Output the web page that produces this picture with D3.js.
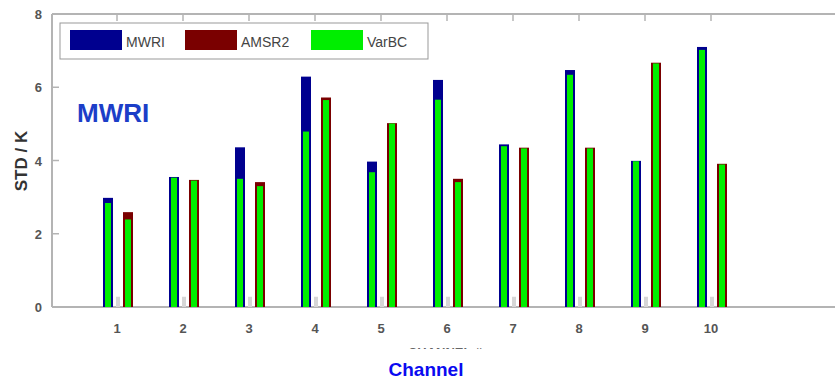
<!DOCTYPE html>
<html>
<head>
<meta charset="utf-8">
<script src="https://cdn.jsdelivr.net/npm/d3@7"></script>
<style>
  body { margin: 0; background: #fff; }
  svg { display: block; font-family: "Liberation Sans", Arial, sans-serif; }
</style>
</head>
<body>
<svg id="chart" width="835" height="379"></svg>
<script>
// channel numbers
const channels = [1, 2, 3, 4, 5, 6, 7, 8, 9, 10];
// STD values (K)
const mwri = [2.98, 3.55, 4.36, 6.29, 3.97, 6.20, 4.44, 6.47, 3.99, 7.10];
const mwriVarBC = [2.84, 3.53, 3.50, 4.79, 3.68, 5.66, 4.39, 6.34, 3.98, 7.02];
const amsr2 = [2.59, 3.47, 3.41, 5.72, 5.02, 3.50, 4.35, 4.35, 6.67, 3.91];
const amsr2VarBC = [2.39, 3.45, 3.30, 5.65, 5.01, 3.41, 4.33, 4.33, 6.65, 3.89];
// tiny grey placeholder bar between each pair
const blank = [0.28, 0.28, 0.28, 0.28, 0.28, 0.28, 0.28, 0.28, 0.28, 0.28];
const yTicks = [0, 2, 4, 6, 8];

const colors = { MWRI: '#00008f', AMSR2: '#7a0000', VarBC: '#00ee00', blank: '#d6d6d6' };

const svg = d3.select('#chart');

const x = d3.scaleLinear().domain([0, 12]).range([51, 843]);
const y = d3.scaleLinear().domain([0, 8]).range([307, 14]);
// position of each series inside a channel group (pixels around the channel)
const inner = d3.scaleBand().domain(['MWRI', 'blank', 'AMSR2']).range([-14, 16]);
const bw = inner.bandwidth();

// axes frame (grey, matlab-like inward ticks)
const axisColor = '#b4b4b4';
svg.append('line').attr('x1', 52).attr('x2', 835).attr('y1', y(0)).attr('y2', y(0))
    .attr('stroke', axisColor).attr('stroke-width', 2);
svg.append('line').attr('x1', 52).attr('x2', 835).attr('y1', y(8)).attr('y2', y(8))
    .attr('stroke', axisColor).attr('stroke-width', 2);
svg.append('line').attr('x1', 52).attr('x2', 52).attr('y1', y(0)).attr('y2', y(8))
    .attr('stroke', axisColor).attr('stroke-width', 2);

// y ticks + labels
yTicks.forEach(t => {
    if (t > 0 && t < 8) {
        svg.append('line').attr('x1', 52).attr('x2', 59).attr('y1', y(t)).attr('y2', y(t))
            .attr('stroke', axisColor).attr('stroke-width', 1.5);
    }
    svg.append('text').attr('x', 42).attr('y', y(t) + 5)
        .attr('text-anchor', 'end').attr('font-size', 13).attr('font-weight', 'bold')
        .attr('fill', '#555').text(t);
});

// x ticks on top + labels below
channels.forEach(c => {
    svg.append('line').attr('x1', x(c)).attr('x2', x(c)).attr('y1', y(8)).attr('y2', y(8) + 7)
        .attr('stroke', axisColor).attr('stroke-width', 1.5);
    svg.append('text').attr('x', x(c)).attr('y', 333)
        .attr('text-anchor', 'middle').attr('font-size', 13).attr('font-weight', 'bold')
        .attr('fill', '#555').text(c);
});

// bars
const g = svg.append('g');
function drawBars(values, key, fill, inset) {
    g.selectAll(null).data(channels).enter().append('rect')
        .attr('x', (d, i) => x(d) + inner(key) + inset)
        .attr('width', bw - 2 * inset)
        .attr('y', (d, i) => y(values[i]))
        .attr('height', (d, i) => y(0) - y(values[i]))
        .attr('fill', fill);
}
drawBars(mwri, 'MWRI', colors.MWRI, 0);
drawBars(mwriVarBC, 'MWRI', colors.VarBC, 2);
drawBars(amsr2, 'AMSR2', colors.AMSR2, 0);
drawBars(amsr2VarBC, 'AMSR2', colors.VarBC, 2);
drawBars(blank, 'blank', colors.blank, 3);

// legend
const legend = svg.append('g');
legend.append('rect').attr('x', 60).attr('y', 23).attr('width', 368).attr('height', 36)
    .attr('fill', '#fff').attr('stroke', '#999').attr('stroke-width', 1);
const legendItems = [
    { name: 'MWRI', color: colors.MWRI, x: 70 },
    { name: 'AMSR2', color: colors.AMSR2, x: 185 },
    { name: 'VarBC', color: colors.VarBC, x: 311 }
];
legendItems.forEach(it => {
    legend.append('rect').attr('x', it.x).attr('y', 30).attr('width', 52).attr('height', 20)
        .attr('fill', it.color);
    legend.append('text').attr('x', it.x + 56).attr('y', 47)
        .attr('font-size', 14).attr('fill', '#444').text(it.name);
});

// axis titles
svg.append('text').attr('transform', 'translate(27,161) rotate(-90)')
    .attr('text-anchor', 'middle').attr('font-size', 17).attr('font-weight', 'bold')
    .attr('fill', '#333').text('STD / K');

// partially hidden original x label
svg.append('text').attr('x', 445).attr('y', 357)
    .attr('text-anchor', 'middle').attr('font-size', 13).attr('font-weight', 'bold')
    .attr('fill', '#666').text('CHANNEL #');
svg.append('rect').attr('x', 380).attr('y', 349).attr('width', 130).attr('height', 30).attr('fill', '#fff');

svg.append('text').attr('x', 426).attr('y', 376)
    .attr('text-anchor', 'middle').attr('font-size', 19).attr('font-weight', 'bold')
    .attr('fill', '#0a0af0').text('Channel');

svg.append('text').attr('x', 77).attr('y', 122)
    .attr('font-size', 26).attr('font-weight', 'bold')
    .attr('fill', '#1c3ec8').text('MWRI');
</script>
</body>
</html>
